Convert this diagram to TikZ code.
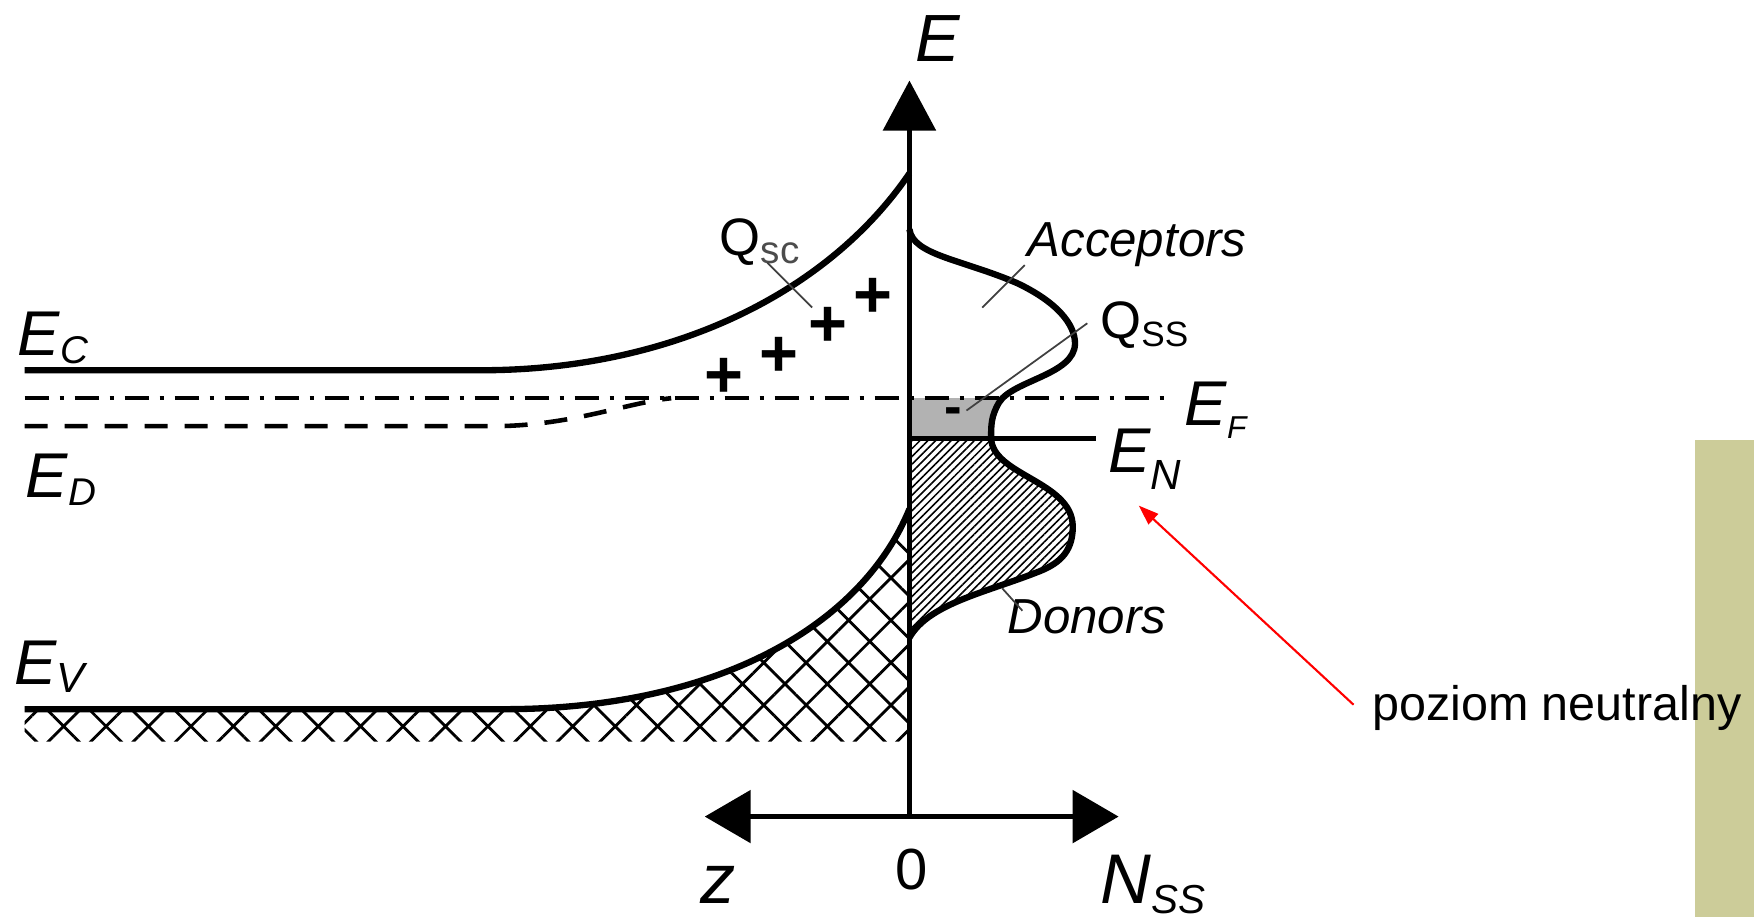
\documentclass[tikz,border=0pt]{standalone}
\usepackage{fontspec}
\setmainfont{Liberation Sans}
\usetikzlibrary{arrows.meta, patterns.meta}
\definecolor{olivebar}{RGB}{204,204,153}
\definecolor{statefill}{RGB}{178,178,178}
\newcommand{\fsz}[1]{\fontsize{#1}{#1}\selectfont}
\newcommand{\sub}[3]{\raisebox{-#3}{\fsz{#1}#2}}

\begin{document}
\begin{tikzpicture}[x=0.11186mm, y=-0.11186mm,
  band/.style={line width=1.8pt},
  axisln/.style={line width=1.6pt},
  lead/.style={line width=0.5pt, black!75},
  lbl/.style={inner sep=0pt, anchor=base west},
  pm/.style={inner sep=0pt, font=\fsz{19}\bfseries},
  uparr/.style={axisln, -{Triangle[length=5mm, width=5.2mm]}},
  twoarr/.style={axisln, {Triangle[length=4.6mm, width=5.2mm]}-{Triangle[length=4.6mm, width=5.2mm]}},
  note/.style={red, line width=0.6pt, -{Triangle[length=2mm, width=1.4mm]}}
]
  \useasboundingbox (0,0) rectangle (1568,820);
  \fill[olivebar] (1515,393) rectangle (1568,820);

  % filled valence band
  \fill[pattern={Hatch[angle=45, distance=3mm, line width=0.8pt]}]
    (22,634) -- (450,634) .. controls (640,634) and (770,560) .. (813,455)
    -- (813,663) -- (22,663) -- cycle;

  % surface state density
  \def\nsspath{(813,205) .. controls (816,228) and (860,232) .. (909,253)
    .. controls (945,270) and (961,290) .. (961,307)
    .. controls (961,335) and (905,340) .. (893,360)
    .. controls (886,372) and (886,380) .. (886,391)
    .. controls (886,425) and (959,430) .. (959,471)
    .. controls (959,495) and (945,505) .. (926,512)
    .. controls (880,530) and (830,540) .. (813,570)}
  \begin{scope}
    \clip (813,356) rectangle (1000,392);
    \fill[statefill] \nsspath -- cycle;
  \end{scope}
  \begin{scope}
    \clip (813,392) rectangle (1000,600);
    \fill[pattern={Lines[angle=45, distance=0.55mm, line width=0.45pt]}] \nsspath -- cycle;
  \end{scope}
  \draw[band] \nsspath;

  % bands and levels
  \draw[band] (22,331) -- (430,331) .. controls (600,331) and (740,262) .. (813,155);
  \draw[band] (22,634) -- (450,634) .. controls (640,634) and (770,560) .. (813,455);
  \draw[line width=1.2pt, dash pattern=on 2.4mm off 1.1mm on 0.4mm off 1.1mm] (22,356) -- (1050,356);
  \draw[line width=1.3pt, dash pattern=on 2.3mm off 1.7mm]
    (22,381) -- (440,381) .. controls (510,381) and (560,360) .. (600,356);
  \draw[line width=1.2pt] (813,392) -- (980,392);

  % axes
  \coordinate (o) at (813,730);
  \coordinate (etop) at (813,72);
  \coordinate (zend) at (630,730);
  \coordinate (nend) at (1000,730);
  \draw[uparr] (o) -- (etop);
  \draw[twoarr] (zend) -- (nend);

  % labels
  \node[lbl] (lblE)   at (818,55)  {\fsz{19}\textit{E}};
  \node[lbl] (lblEc)  at (15,318)  {\fsz{18}\textit{E}\sub{11}{\textit{C}}{0.8mm}};
  \node[lbl] (lblEd)  at (22,445)  {\fsz{18}\textit{E}\sub{11}{\textit{D}}{0.8mm}};
  \node[lbl] (lblEv)  at (12,612)  {\fsz{18}\textit{E}\sub{12}{\textit{V}}{0.8mm}};
  \node[lbl] (lblEf)  at (1058,380) {\fsz{18}\textit{E}\sub{9}{\textit{F}}{1.3mm}};
  \node[lbl] (lblEn)  at (990,422) {\fsz{18}\textit{E}\sub{12}{\textit{N}}{1.7mm}};
  \node[lbl] (lblQsc) at (643,228) {\fsz{15}Q\sub{11}{\textcolor{black!70}{sc}}{0.8mm}};
  \node[lbl] (lblQss) at (983,303) {\fsz{15}Q\sub{10}{SS}{0.8mm}};
  \node[lbl] (lblAcc) at (918,229) {\fsz{14}\textit{Acceptors}};
  \node[lbl] (lblDon) at (900,566) {\fsz{14}\textit{Donors}};
  \node[lbl] (lblz)   at (626,808) {\fsz{20}\textit{z}};
  \node[inner sep=0pt, anchor=base] (lblzero) at (815,795) {\fsz{16.5}0};
  \node[lbl] (lblNss) at (983,808) {\fsz{20}\textit{N}\sub{11.5}{\textit{SS}}{1mm}};
  \node[lbl] (lblpoz) at (1226,644) {\fsz{13.8}poziom neutralny};

  % charges
  \node[pm] (pl1) at (780,266) {+};
  \node[pm] (pl2) at (740,292) {+};
  \node[pm] (pl3) at (696,319) {+};
  \node[pm] (pl4) at (647,338) {+};
  \node[inner sep=0pt, font=\fsz{15}\bfseries] (mn) at (852,372) {-};

  % leader lines
  \coordinate (qscA) at (686,235);  \coordinate (qscB) at (726,275);
  \coordinate (accA) at (916,237);  \coordinate (accB) at (878,275);
  \coordinate (qssA) at (972,289);  \coordinate (qssB) at (864,367);
  \coordinate (donA) at (896,526);  \coordinate (donB) at (914,546);
  \draw[lead] (qscA) -- (qscB);
  \draw[lead] (accA) -- (accB);
  \draw[lead] (qssA) -- (qssB);
  \draw[lead] (donA) -- (donB);

  % note arrow
  \coordinate (rstart) at (1210,630);
  \coordinate (rend) at (1018,452);
  \draw[note] (rstart) -- (rend);
\end{tikzpicture}
\end{document}
